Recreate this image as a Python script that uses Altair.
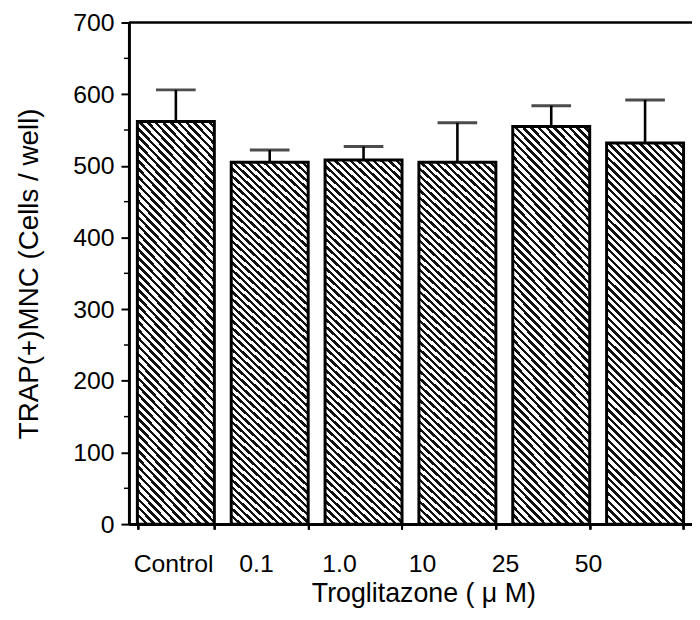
import altair as alt
import pandas as pd

# ---- data ----
doses = ["Control", "0.1", "1.0", "10", "25", "50"]
means = [562, 505, 508, 505, 555, 532]
sds = [44, 17, 19, 55, 29, 60]
y_major = [0, 100, 200, 300, 400, 500, 600, 700]
y_minor = [50, 150, 250, 350, 450, 550, 650]
frame_top = [700]

df = pd.DataFrame({
    "dose": doses,
    "mean": means,
    "upper": [m + s for m, s in zip(means, sds)],
})

FONT = "Liberation Sans"

# hatch fill (diagonal stripes) built as a striped linear gradient
n_stripes = 60
ink = 0.45
stops = []
for i in range(n_stripes):
    s = i / n_stripes
    m = s + ink / n_stripes
    e = (i + 1) / n_stripes
    stops += [
        alt.GradientStop(color="#111111", offset=s),
        alt.GradientStop(color="#111111", offset=m),
        alt.GradientStop(color="#ffffff", offset=m),
        alt.GradientStop(color="#ffffff", offset=e),
    ]
hatch = alt.LinearGradient(gradient="linear", stops=stops,
                           x1=0, y1=1, x2=0.2308, y2=-0.154)

yscale = alt.Scale(domain=[0, 700], nice=False)
yaxis = alt.Axis(
    values=y_major, title="TRAP(+)MNC (Cells / well)", grid=False,
    labelFont=FONT, labelFontSize=25, labelColor="black", labelPadding=7,
    tickSize=8, tickWidth=2, tickColor="black",
    domainColor="black", domainWidth=3,
    titleFont=FONT, titleFontSize=28, titleFontWeight="normal",
    titleColor="black", titlePadding=30,
)

xA = alt.X(
    "dose:N", sort=doses,
    scale=alt.Scale(type="band", paddingInner=0.18, paddingOuter=0.09),
    axis=alt.Axis(labels=False, title=None, ticks=True, tickBand="extent",
                  tickSize=5, tickWidth=2, tickColor="black",
                  domainColor="black", domainWidth=3, orient="bottom"),
)

base = alt.Chart(df)

bars = base.mark_bar(fill=hatch, stroke="black", strokeWidth=3).encode(
    x=xA, y=alt.Y("mean:Q", scale=yscale, axis=yaxis)
)
stems = base.mark_rule(color="black", strokeWidth=2.6).encode(
    x=xA, y=alt.Y("mean:Q", scale=yscale, axis=yaxis), y2="upper:Q"
)
caps = base.mark_tick(color="black", thickness=3, size=40).encode(
    x=xA, y=alt.Y("upper:Q", scale=yscale, axis=yaxis)
)
minor = alt.Chart(pd.DataFrame({"v": y_minor})).mark_rule(
    color="black", strokeWidth=1.5
).encode(
    x=alt.value(-5), x2=alt.value(0),
    y=alt.Y("v:Q", scale=yscale, axis=yaxis),
)
top = alt.Chart(pd.DataFrame({"v": frame_top})).mark_rule(
    color="black", strokeWidth=2.5
).encode(y=alt.Y("v:Q", scale=yscale, axis=yaxis))

labels = base.mark_point(opacity=0).encode(
    x=alt.X(
        "dose:N", sort=doses,
        scale=alt.Scale(type="band", paddingInner=0, paddingOuter=0.393, align=0.048),
        axis=alt.Axis(orient="bottom", ticks=False, tickSize=0, domain=False,
                      labelFont=FONT, labelFontSize=25, labelColor="black",
                      labelPadding=28, labelAngle=0,
                      title="Troglitazone ( \u03bc M)", titleFont=FONT,
                      titleFontSize=27, titleFontWeight="normal",
                      titleColor="black", titlePadding=4, titleX=297),
    )
)

chart = alt.layer(bars, stems, caps, minor, top, labels).resolve_scale(
    x="independent"
).properties(
    width=568, height=506,
    autosize=alt.AutoSizeParams(type="none"),
    padding={"left": 122, "top": 12, "right": 0, "bottom": 86},
    background="white",
).configure_view(stroke=None)

chart.save("out.html", embed_options={"renderer": "svg", "actions": False})
